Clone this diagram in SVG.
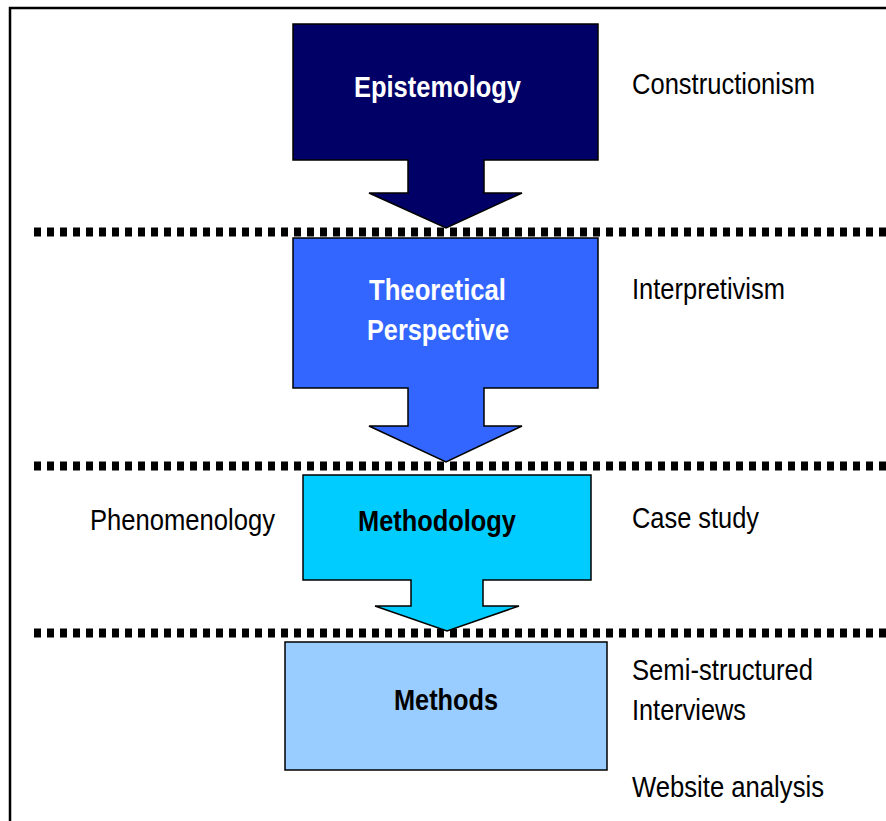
<svg xmlns="http://www.w3.org/2000/svg" width="886" height="821" viewBox="0 0 886 821">
<style>
.shape{stroke:#000;stroke-width:1.5;stroke-linejoin:miter}
.sep{stroke:#000;stroke-width:9;stroke-dasharray:7 6;fill:none}
.lbl{font-family:"Liberation Sans",Arial,sans-serif;font-size:30px;font-weight:bold}
.side{font-family:"Liberation Sans",Arial,sans-serif;font-size:30px;fill:#000}
</style>
<rect width="886" height="821" fill="#fff"/>
<path d="M10,821 V8 H886" fill="none" stroke="#000" stroke-width="2.5"/>
<g id="connectors">
<line class="sep" x1="34" y1="232" x2="886" y2="232"/>
<line class="sep" x1="34" y1="466" x2="886" y2="466"/>
<line class="sep" x1="34" y1="633" x2="886" y2="633"/>
</g>
<g id="epistemology">
<path class="shape" fill="#000066" d="M293,24 H598 V160 H484 V193 H522 L446,228 L369,193 H408 V160 H293 Z"/>
<text class="lbl" x="354" y="97" fill="#fff" textLength="167" lengthAdjust="spacingAndGlyphs">Epistemology</text>
</g>
<g id="theoretical">
<path class="shape" fill="#3366FF" d="M293,238 H598 V388 H484 V426 H522 L446,462 L369,426 H408 V388 H293 Z"/>
<text class="lbl" x="369" y="300" fill="#fff" textLength="137" lengthAdjust="spacingAndGlyphs">Theoretical</text>
<text class="lbl" x="367" y="340" fill="#fff" textLength="142" lengthAdjust="spacingAndGlyphs">Perspective</text>
</g>
<g id="methodology">
<path class="shape" fill="#00CCFF" d="M303,475 H591 V580 H483 V606 H519 L447,631 L375,606 H411 V580 H303 Z"/>
<text class="lbl" x="358" y="531" fill="#000" textLength="158" lengthAdjust="spacingAndGlyphs">Methodology</text>
</g>
<g id="methods">
<rect class="shape" fill="#99CCFF" x="285" y="642" width="322" height="128"/>
<text class="lbl" x="394" y="710" fill="#000" textLength="104" lengthAdjust="spacingAndGlyphs">Methods</text>
</g>
<g id="side-labels">
<text class="side" x="632" y="94" textLength="183" lengthAdjust="spacingAndGlyphs">Constructionism</text>
<text class="side" x="632" y="299" textLength="153" lengthAdjust="spacingAndGlyphs">Interpretivism</text>
<text class="side" x="90" y="530" textLength="185" lengthAdjust="spacingAndGlyphs">Phenomenology</text>
<text class="side" x="632" y="528" textLength="127" lengthAdjust="spacingAndGlyphs">Case study</text>
<text class="side" x="632" y="680" textLength="181" lengthAdjust="spacingAndGlyphs">Semi-structured</text>
<text class="side" x="632" y="720" textLength="114" lengthAdjust="spacingAndGlyphs">Interviews</text>
<text class="side" x="632" y="797" textLength="192" lengthAdjust="spacingAndGlyphs">Website analysis</text>
</g>
</svg>
